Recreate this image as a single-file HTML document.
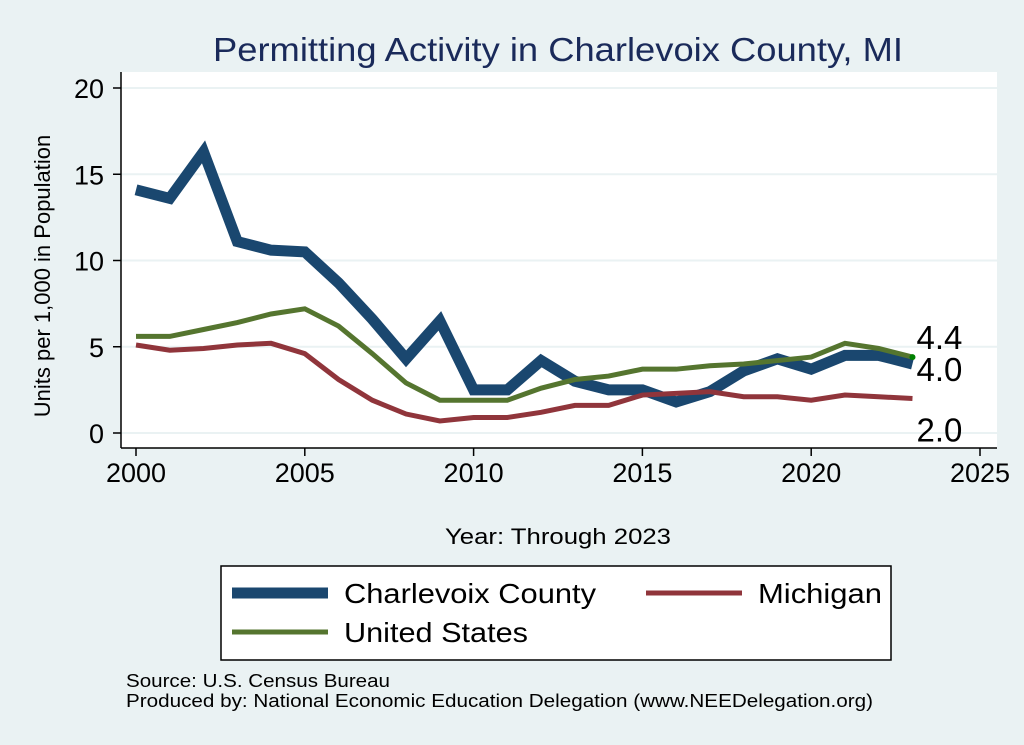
<!DOCTYPE html>
<html><head><meta charset="utf-8"><style>
body{margin:0;background:#eaf2f3;}
svg{display:block;font-family:"Liberation Sans",sans-serif;}
</style></head><body>
<svg id="chart" width="1024" height="745">
<rect x="0" y="0" width="1024" height="745" fill="#eaf2f3"/>
<text x="558" y="61" font-size="33" fill="#1a2a5a" text-anchor="middle" textLength="690" lengthAdjust="spacingAndGlyphs">Permitting Activity in Charlevoix County, MI</text>
<rect x="121" y="72" width="876" height="376" fill="#ffffff"/>
<g id="grid"></g>
<g id="series"></g>
<g id="axes"></g>
<text x="50" y="276" font-size="22" text-anchor="middle" transform="rotate(-90 50 276)">Units per 1,000 in Population</text>
<text x="558" y="544" font-size="22" text-anchor="middle" textLength="226" lengthAdjust="spacingAndGlyphs">Year: Through 2023</text>
<g>
<rect x="221" y="566" width="670" height="94" fill="#ffffff" stroke="#000" stroke-width="1.5"/>
<line x1="232" y1="593" x2="328" y2="593" stroke="#1a476f" stroke-width="11"/>
<text x="344" y="603" font-size="28" textLength="252" lengthAdjust="spacingAndGlyphs">Charlevoix County</text>
<line x1="646" y1="593" x2="742" y2="593" stroke="#90353b" stroke-width="5"/>
<text x="758" y="603" font-size="28" textLength="124" lengthAdjust="spacingAndGlyphs">Michigan</text>
<line x1="232" y1="632" x2="328" y2="632" stroke="#55752f" stroke-width="5"/>
<text x="344" y="642" font-size="28" textLength="184" lengthAdjust="spacingAndGlyphs">United States</text>
</g>
<text x="126" y="687" font-size="18" textLength="264" lengthAdjust="spacingAndGlyphs">Source: U.S. Census Bureau</text>
<text x="126" y="707" font-size="18" textLength="747" lengthAdjust="spacingAndGlyphs">Produced by: National Economic Education Delegation (www.NEEDelegation.org)</text>
</svg>
<script>
const years=[2000,2001,2002,2003,2004,2005,2006,2007,2008,2009,2010,2011,2012,2013,2014,2015,2016,2017,2018,2019,2020,2021,2022,2023];
const charlevoix=[14.1,13.6,16.3,11.1,10.6,10.5,8.7,6.6,4.3,6.5,2.5,2.5,4.2,3.0,2.5,2.5,1.8,2.4,3.6,4.3,3.7,4.5,4.5,4.0];
const unitedStates=[5.6,5.6,6.0,6.4,6.9,7.2,6.2,4.6,2.9,1.9,1.9,1.9,2.6,3.1,3.3,3.7,3.7,3.9,4.0,4.2,4.4,5.2,4.9,4.4];
const michigan=[5.1,4.8,4.9,5.1,5.2,4.6,3.1,1.9,1.1,0.7,0.9,0.9,1.2,1.6,1.6,2.2,2.3,2.4,2.1,2.1,1.9,2.2,2.1,2.0];
const xTicks=[2000,2005,2010,2015,2020,2025];
const yTicks=[0,5,10,15,20];
const NS='http://www.w3.org/2000/svg';
const xs=y=>136+(y-2000)*(980-136)/25;
const ys=v=>433-v*(433-88)/20;
function mk(tag,attrs,parent){const e=document.createElementNS(NS,tag);for(const k in attrs)e.setAttribute(k,attrs[k]);parent.appendChild(e);return e;}
const grid=document.getElementById('grid'),axes=document.getElementById('axes'),series=document.getElementById('series');
yTicks.forEach(t=>{
  const g=mk('line',{x1:121,x2:997,y1:ys(t),y2:ys(t),stroke:'#eaf2f3','stroke-width':2},grid);
  
  
  const tk=mk('line',{x1:113,x2:121,y1:ys(t),y2:ys(t),stroke:'#000','stroke-width':1.5},axes);
  
  
  const tx=mk('text',{x:104,y:ys(t)+10,'font-size':27,'text-anchor':'end'},axes);
  tx.textContent=t;
  
  
});
xTicks.forEach(t=>{
  const tk=mk('line',{x1:xs(t),x2:xs(t),y1:448,y2:456,stroke:'#000','stroke-width':1.5},axes);
  
  
  const tx=mk('text',{x:xs(t),y:482,'font-size':27,'text-anchor':'middle'},axes);
  tx.textContent=t;
  
  
});
const ya=mk('line',{x1:121,x2:121,y1:72,y2:448,stroke:'#000','stroke-width':1.5},axes);


const xa=mk('line',{x1:121,x2:997,y1:448,y2:448,stroke:'#000','stroke-width':1.5},axes);


function line(vals,color,w,name){
  const p=mk('polyline',{points:vals.map((v,i)=>xs(years[i])+','+ys(v)).join(' '),fill:'none',stroke:color,'stroke-width':w,'stroke-linejoin':'miter'},series);
  
  
}
line(charlevoix,'#1a476f',11,'line-charlevoix');
line(michigan,'#90353b',5,'line-michigan');
line(unitedStates,'#55752f',5,'line-united-states');
const last=years.length-1;
const d=mk('circle',{cx:xs(years[last]),cy:ys(unitedStates[last]),r:3,fill:'#008000'},series);


[[unitedStates[last],-8,'end-label-us'],[charlevoix[last],17,'end-label-charlevoix'],[michigan[last],43,'end-label-michigan']].forEach(([v,dy,n])=>{
  const t=mk('text',{x:xs(years[last])+4,y:ys(v)+dy,'font-size':33},series);
  t.textContent=v.toFixed(1);
  
  
});
</script>
</body></html>
